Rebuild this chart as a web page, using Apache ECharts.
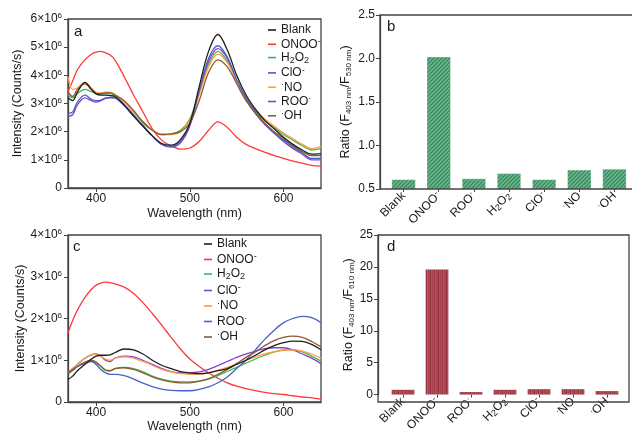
<!DOCTYPE html>
<html><head><meta charset="utf-8">
<script src="https://cdn.jsdelivr.net/npm/echarts@6/dist/echarts.min.js"></script>
<style>html,body{margin:0;padding:0;background:#fff}#c{width:632px;height:434px}</style>
</head><body><div id="c"></div>
<script>
// ---------- data ----------
const wavelengths = [370,375,380,388,395,400,405,410,415,420,430,440,450,460,470,480,490,500,510,520,530,540,550,560,570,580,590,600,610,620,630,640];
const seriesNames = ['Blank','ONOO','H2O2','ClO','NO','ROO','OH'];
// panel a (x10^6 counts/s)
const aBlank = [3.2,3.1,3.4,3.75,3.5,3.34,3.3,3.3,3.28,3.25,2.95,2.55,2.2,1.85,1.58,1.52,1.72,2.3,3.6,4.85,5.45,4.9,4.0,3.3,2.8,2.4,2.1,1.8,1.55,1.35,1.2,1.22];
const aONOO  = [3.43,3.8,4.2,4.55,4.75,4.82,4.85,4.8,4.72,4.55,3.95,3.3,2.7,2.1,1.7,1.5,1.38,1.42,1.65,2.05,2.35,2.15,1.8,1.55,1.4,1.27,1.15,1.05,0.95,0.88,0.8,0.78];
const aH2O2  = [3.3,3.2,3.35,3.5,3.42,3.35,3.33,3.35,3.35,3.3,3.05,2.7,2.3,2.05,1.9,1.92,2.05,2.45,3.4,4.4,4.85,4.5,3.8,3.2,2.75,2.4,2.15,1.9,1.7,1.5,1.35,1.4];
const aClO   = [2.55,2.6,2.95,3.2,3.1,3.05,3.1,3.18,3.2,3.2,2.95,2.6,2.2,1.85,1.55,1.45,1.6,2.2,3.4,4.5,4.95,4.6,3.8,3.15,2.65,2.25,1.95,1.65,1.4,1.2,1.0,1.0];
const aNO    = [3.95,3.5,3.55,3.75,3.55,3.4,3.38,3.4,3.4,3.33,3.05,2.7,2.35,2.05,1.9,1.9,2.0,2.4,3.3,4.3,4.75,4.45,3.8,3.2,2.8,2.45,2.2,1.95,1.75,1.55,1.4,1.48];
const aROO   = [2.65,2.7,3.05,3.3,3.15,3.1,3.12,3.2,3.22,3.2,2.92,2.55,2.2,1.85,1.55,1.48,1.65,2.25,3.45,4.6,5.05,4.65,3.85,3.2,2.7,2.3,1.95,1.7,1.45,1.25,1.05,1.05];
const aOH    = [3.4,3.25,3.5,3.7,3.5,3.35,3.35,3.38,3.38,3.3,3.1,2.75,2.35,2.05,1.9,1.92,2.0,2.3,3.1,4.1,4.55,4.3,3.7,3.1,2.65,2.3,2.0,1.75,1.5,1.3,1.15,1.15];
// panel c (x10^6 counts/s)
const cBlank = [0.54,0.62,0.75,0.9,1.03,1.1,1.12,1.12,1.13,1.18,1.27,1.25,1.15,1.0,0.88,0.8,0.73,0.7,0.68,0.7,0.75,0.8,0.9,1.0,1.12,1.25,1.35,1.42,1.46,1.45,1.38,1.25];
const cONOO  = [1.66,1.95,2.2,2.5,2.7,2.8,2.85,2.87,2.86,2.83,2.75,2.6,2.38,2.12,1.84,1.55,1.27,1.03,0.85,0.7,0.57,0.46,0.38,0.32,0.27,0.23,0.2,0.18,0.15,0.12,0.1,0.07];
const cH2O2  = [0.68,0.76,0.85,0.95,1.0,0.95,0.85,0.76,0.74,0.8,0.83,0.8,0.72,0.62,0.55,0.5,0.48,0.48,0.5,0.55,0.63,0.73,0.83,0.93,1.03,1.12,1.2,1.25,1.25,1.2,1.1,0.98];
const cClO   = [0.7,0.8,0.9,1.05,1.13,1.15,1.1,1.0,0.97,1.05,1.1,1.08,1.0,0.9,0.8,0.73,0.7,0.7,0.72,0.78,0.87,0.97,1.07,1.15,1.22,1.28,1.3,1.3,1.25,1.15,1.05,0.92];
const cNO    = [0.7,0.8,0.9,1.05,1.13,1.15,1.1,1.03,1.0,1.05,1.08,1.05,0.97,0.88,0.78,0.72,0.68,0.66,0.67,0.7,0.76,0.83,0.92,1.0,1.08,1.15,1.2,1.24,1.25,1.22,1.15,1.05];
const cROO   = [0.7,0.78,0.85,0.92,0.97,0.9,0.78,0.7,0.66,0.66,0.63,0.55,0.45,0.37,0.31,0.28,0.27,0.27,0.3,0.36,0.46,0.6,0.8,1.0,1.25,1.5,1.72,1.9,2.0,2.05,2.02,1.9];
const cOH    = [0.68,0.76,0.85,0.95,1.0,0.95,0.86,0.77,0.75,0.8,0.82,0.78,0.7,0.6,0.53,0.48,0.46,0.46,0.5,0.56,0.66,0.78,0.92,1.07,1.2,1.35,1.47,1.55,1.58,1.55,1.45,1.32];
// bar panels
const barCategories = ['Blank','ONOO','ROO','H2O2','ClO','NO','OH'];
const ratioB = [0.61,2.02,0.62,0.68,0.61,0.72,0.73];
const ratioD = [0.75,19.6,0.4,0.75,0.85,0.85,0.55];
const xTicks = [400,500,600];

// ---------- styles ----------
const lineColors = ['#1e1e1e','#ff3838','#3fba4f','#8a40c4','#ff9c45','#4463c8','#8c5a32'];
const richLabel = {
  Blank:'{n|Blank}', ONOO:'{n|ONOO}{s|-}', H2O2:'{n|H}{b|2}{n|O}{b|2}', ClO:'{n|ClO}{s|-}',
  NO:'{s|·}{n|NO}', ROO:'{n|ROO}{s|·}', OH:'{s|·}{n|OH}'
};
const FONT = 'Liberation Sans';
function rich(fs, subScale){
  const ss = Math.round(fs*(subScale||0.7));
  return {
    n:{fontSize:fs, lineHeight:14, color:'#1a1a1a', fontFamily:FONT},
    s:{fontSize:ss, lineHeight:7, verticalAlign:'top', color:'#1a1a1a', fontFamily:FONT},
    b:{fontSize:ss, lineHeight:7, verticalAlign:'bottom', color:'#1a1a1a', fontFamily:FONT}
  };
}
const axisColor = '#444';

function makePattern(kind){
  const cv = document.createElement('canvas');
  if(kind==='hatch'){
    cv.width=4; cv.height=4;
    const g=cv.getContext('2d');
    g.fillStyle='#6ab58d'; g.fillRect(0,0,4,4);
    g.strokeStyle='#348456'; g.lineWidth=1.1;
    g.beginPath(); g.moveTo(0,4); g.lineTo(4,0); g.moveTo(-1,1); g.lineTo(1,-1); g.moveTo(3,5); g.lineTo(5,3); g.stroke();
  } else {
    const cols=['#a8404e','#b24c5a','#9c3846','#b85464','#a3414f','#ad4856','#98343f','#b04e5c'];
    cv.width=cols.length; cv.height=2;
    const g=cv.getContext('2d');
    cols.forEach((c,i)=>{g.fillStyle=c; g.fillRect(i,0,1,2);});
  }
  return {image:cv, repeat:'repeat'};
}

const seriesA=[aBlank,aONOO,aH2O2,aClO,aNO,aROO,aOH];
const seriesC=[cBlank,cONOO,cH2O2,cClO,cNO,cROO,cOH];

function lineSeries(arrs, gi){
  return arrs.map((arr,k)=>({
    name: seriesNames[k], type:'line', xAxisIndex:gi, yAxisIndex:gi,
    smooth:0.35, showSymbol:false, silent:true,
    lineStyle:{width:1.3, color:lineColors[k]}, itemStyle:{color:lineColors[k]},
    data: wavelengths.map((w,i)=>[w,arr[i]]), z: k===0?3:2
  }));
}

function valueX(gi, nameGap){
  return {
    type:'value', gridIndex:gi, min:370, max:640,
    axisLine:{show:true, lineStyle:{color:axisColor, width:1.3}},
    axisTick:{show:true, customValues:xTicks, length:4, lineStyle:{color:axisColor}},
    axisLabel:{customValues:xTicks, fontSize:12, color:'#1a1a1a', margin:5, fontFamily:FONT},
    splitLine:{show:false},
    name:'Wavelength (nm)', nameLocation:'middle', nameGap:nameGap,
    nameTextStyle:{fontSize:12.5, color:'#1a1a1a', fontFamily:FONT}
  };
}
function intensityY(gi, max, nameGap){
  return {
    type:'value', gridIndex:gi, min:0, max:max, interval:1,
    axisLine:{show:true, lineStyle:{color:axisColor, width:1.3}},
    axisTick:{show:true, length:4, lineStyle:{color:axisColor}},
    axisLabel:{fontSize:12, margin:6, formatter:v=> v===0?'{n|0}':'{n|'+v+'×10}{s|6}', rich:rich(12)},
    splitLine:{show:false},
    name:'Intensity (Counts/s)', nameLocation:'middle', nameGap:nameGap,
    nameTextStyle:{fontSize:12.5, color:'#1a1a1a', fontFamily:FONT}
  };
}
function catX(gi){
  return {
    type:'category', gridIndex:gi, data:barCategories,
    axisLine:{show:false}, axisTick:{show:true, alignWithLabel:true, length:3, lineStyle:{color:axisColor}},
    axisLabel:{rotate:45, fontSize:12, margin:5, interval:0, formatter:v=>richLabel[v], rich:rich(12,0.78)}
  };
}
function ratioY(gi, min, max, itv, offset, sub2, nameGap, dec){
  return {
    type:'value', gridIndex:gi, min:min, max:max, interval:itv, offset:offset,
    axisLine:{show:true, lineStyle:{color:axisColor, width:1.3}},
    axisTick:{show:true, length:4, lineStyle:{color:axisColor}},
    axisLabel:{fontSize:12, color:'#1a1a1a', margin:5, fontFamily:FONT, formatter:v=> dec? v.toFixed(1): String(v)},
    splitLine:{show:false},
    name:'{n|Ratio (F}{b|403 nm}{n|/F}{b|'+sub2+'}{n|)}', nameLocation:'middle', nameGap:nameGap,
    nameTextStyle:{rich:rich(12.5,0.62)}
  };
}

const option = {
  animation:false,
  backgroundColor:'#fff',
  textStyle:{fontFamily:FONT},
  grid:[
    {left:68, top:19, width:253, height:169, show:true, borderColor:axisColor, borderWidth:1.3},
    {left:386, top:15, width:247, height:174},
    {left:68, top:235, width:253, height:167, show:true, borderColor:axisColor, borderWidth:1.3},
    {left:386, top:235, width:238, height:167}
  ],
  xAxis:[ valueX(0,19), catX(1), valueX(2,15), catX(3) ],
  yAxis:[ intensityY(0,6,44), ratioY(1,0.5,2.5,0.5,6,'530 nm',27,true), intensityY(2,4,41), ratioY(3,0,25,5,8,'610 nm',21,false) ],
  legend:[
    {data:seriesNames, orient:'vertical', left:268, top:24, itemWidth:8, itemHeight:1.6, itemGap:1.3, icon:'rect',
     formatter:n=>richLabel[n], textStyle:{rich:rich(12,0.75)}, selectedMode:false, padding:0},
    {data:seriesNames, orient:'vertical', left:204, top:238, itemWidth:8, itemHeight:1.6, itemGap:2.5, icon:'rect',
     formatter:n=>richLabel[n], textStyle:{rich:rich(12,0.75)}, selectedMode:false, padding:0}
  ],
  series:[
    ...lineSeries(seriesA,0),
    ...lineSeries(seriesC,2),
    {type:'bar', xAxisIndex:1, yAxisIndex:1, data:ratioB, barWidth:'68%', silent:true,
     itemStyle:{color:makePattern('hatch'), borderColor:'rgba(255,255,255,0.5)', borderWidth:0.5}},
    {type:'bar', xAxisIndex:3, yAxisIndex:3, data:ratioD, barWidth:'67%', silent:true,
     itemStyle:{color:makePattern('stripe')}}
  ],
  graphic:[
    {type:'rect', shape:{x:380, y:15, width:270, height:174}, style:{fill:'none', stroke:axisColor, lineWidth:1.3}, z:100, silent:true},
    {type:'rect', shape:{x:378, y:235, width:251, height:167}, style:{fill:'none', stroke:axisColor, lineWidth:1.3}, z:100, silent:true},
    {type:'text', left:74, top:24, style:{text:'a', fontSize:15, fill:'#1a1a1a', fontFamily:FONT}},
    {type:'text', left:387, top:19, style:{text:'b', fontSize:15, fill:'#1a1a1a', fontFamily:FONT}},
    {type:'text', left:73, top:239, style:{text:'c', fontSize:15, fill:'#1a1a1a', fontFamily:FONT}},
    {type:'text', left:387, top:239, style:{text:'d', fontSize:15, fill:'#1a1a1a', fontFamily:FONT}}
  ]
};
const chart = echarts.init(document.getElementById('c'), null, {renderer:'canvas'});
chart.setOption(option);
</script></body></html>
